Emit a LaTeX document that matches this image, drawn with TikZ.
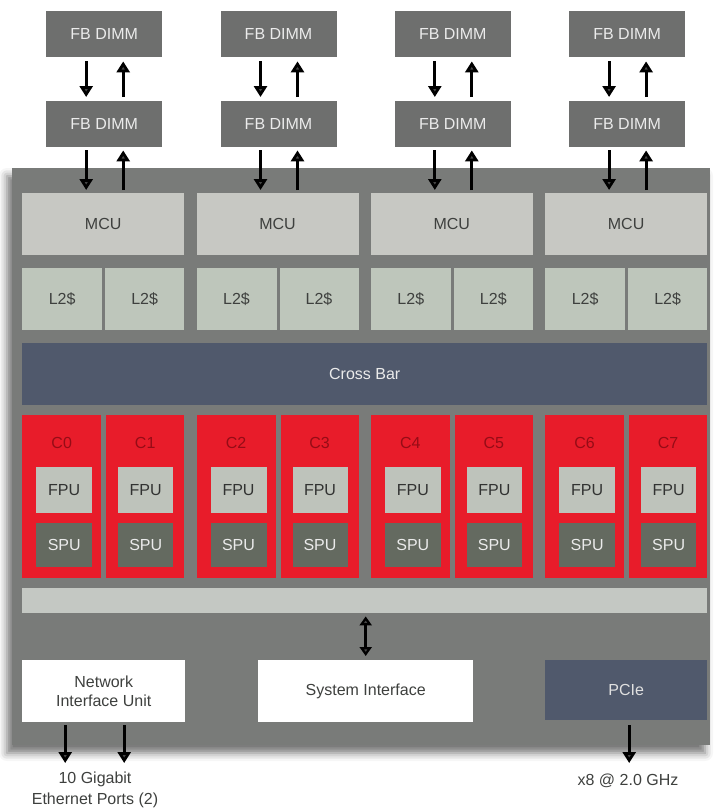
\documentclass[tikz,border=0pt]{standalone}
\usepackage{fontspec}
\setmainfont{Liberation Sans}
\usetikzlibrary{positioning,arrows.meta,shadows.blur}
\definecolor{chipgray}{RGB}{121,123,121}
\definecolor{dimmgray}{RGB}{110,111,110}
\definecolor{mculight}{RGB}{199,200,195}
\definecolor{cachegreen}{RGB}{190,198,187}
\definecolor{barslate}{RGB}{80,89,108}
\definecolor{corered}{RGB}{232,28,42}
\definecolor{corelabel}{RGB}{150,12,22}
\definecolor{fpulight}{RGB}{190,195,187}
\definecolor{spudark}{RGB}{100,106,96}
\definecolor{busgray}{RGB}{196,200,195}
\definecolor{labeltext}{RGB}{62,64,62}

\tikzset{
  blk/.style={anchor=north west,inner sep=0pt,align=center,font=\fontsize{16}{19}\selectfont},
  dimm/.style={blk,fill=dimmgray,text=white!92!black,minimum width=116pt,minimum height=46pt},
  mcu/.style={blk,fill=mculight,text=labeltext,minimum width=162pt,minimum height=62pt},
  ltwo/.style={blk,fill=cachegreen,text=labeltext,minimum height=62pt},
  core/.style={blk,fill=corered,minimum height=163pt},
  corelbl/.style={inner sep=0pt,text=corelabel,font=\fontsize{16}{19}\selectfont},
  fpu/.style={blk,fill=fpulight,text=labeltext!80!black,minimum height=46pt},
  spu/.style={blk,fill=spudark,text=white!92!black,minimum height=44pt},
  flow/.style={line width=3pt,-{Triangle[length=11pt,width=13pt]}},
  note/.style={inner sep=0pt,align=center,text=labeltext,font=\fontsize{16}{21}\selectfont}
}

\begin{document}
\begin{tikzpicture}[x=1pt,y=-1pt]
\useasboundingbox (0,0) rectangle (722,808);
% chip outline
\path[fill=chipgray,blur shadow={shadow xshift=-5pt,shadow yshift=-8pt,shadow blur radius=8pt,shadow opacity=55}]
  (12,168) rectangle (710,745);
% memory, caches and cores, one group of two cores per MCU
\foreach \i/\ca/\cb in {0/C0/C1,1/C2/C3,2/C4/C5,3/C6/C7}{
  \pgfmathsetmacro\bx{22+174.3*\i}
  \node[dimm] (dtop\i) at (\bx+24,11) {FB DIMM};
  \node[dimm] (dbot\i) at (\bx+24,101) {FB DIMM};
  \node[mcu] (mcu\i) at (\bx,193) {MCU};
  \draw[flow,shorten <=4pt,shorten >=4pt] ([xshift=-18pt]dtop\i.south) -- ([xshift=-18pt]dbot\i.north);
  \draw[flow,shorten <=4pt,shorten >=4pt] ([xshift=19pt]dbot\i.north) -- ([xshift=19pt]dtop\i.south);
  \draw[flow,shorten <=3pt,shorten >=3pt] ([xshift=-18pt]dbot\i.south) -- ([xshift=-18pt]dbot\i.south |- mcu\i.north);
  \draw[flow,shorten <=3pt,shorten >=3pt] ([xshift=19pt]dbot\i.south |- mcu\i.north) -- ([xshift=19pt]dbot\i.south);
  \node[ltwo,minimum width=80pt] (lta\i) at (\bx,268) {L2\$};
  \node[ltwo,minimum width=79pt] (ltb\i) at (\bx+83,268) {L2\$};
  % cores
  \node[core,minimum width=79pt] (corea\i) at (\bx,415) {};
  \node[core,minimum width=78pt] (coreb\i) at (\bx+84,415) {};
  \node[corelbl] (cla\i) at ([yshift=-28pt]corea\i.north) {\ca};
  \node[corelbl] (clb\i) at ([yshift=-28pt]coreb\i.north) {\cb};
  \node[fpu,minimum width=56pt] (fpua\i) at (\bx+14,467) {FPU};
  \node[fpu,minimum width=55pt] (fpub\i) at (\bx+96,467) {FPU};
  \node[spu,minimum width=56pt] (spua\i) at (\bx+14,523) {SPU};
  \node[spu,minimum width=55pt] (spub\i) at (\bx+96,523) {SPU};
}
% cross bar and bus
\node[blk,fill=barslate,text=white!92!black,minimum width=685pt,minimum height=62pt] (xbar) at (22,343) {Cross Bar};
\node[blk,fill=busgray,minimum width=685pt,minimum height=25pt] (bus) at (22,588) {};
% interfaces
\node[blk,fill=white,text=labeltext,minimum width=163pt,minimum height=62pt] (niu) at (22,660) {Network\\Interface Unit};
\node[blk,fill=white,text=labeltext,minimum width=215pt,minimum height=62pt] (sysif) at (258,660) {System Interface};
\node[blk,fill=barslate,text=white!88!black,minimum width=162pt,minimum height=60pt] (pcie) at (545,660) {PCIe};
\draw[line width=3pt,{Triangle[length=9pt,width=12pt]}-{Triangle[length=9pt,width=12pt]},shorten <=4pt,shorten >=3pt]
  (sysif.north) -- (sysif.north |- bus.south);
% external ports
\node[note] (eth) at (95,790) {10 Gigabit\\Ethernet Ports (2)};
\node[note] (pcilink) at (628,781) {x8 @ 2.0 GHz};
\coordinate (portend) at (95,763);
\draw[flow,shorten <=3pt] ([xshift=-38.5pt]niu.south) -- ([xshift=-38.5pt]niu.south |- portend);
\draw[flow,shorten <=3pt] ([xshift=20.5pt]niu.south) -- ([xshift=20.5pt]niu.south |- portend);
\draw[flow,shorten <=5pt] ([xshift=3pt]pcie.south) -- ([xshift=3pt]pcie.south |- portend);
\end{tikzpicture}
\end{document}
